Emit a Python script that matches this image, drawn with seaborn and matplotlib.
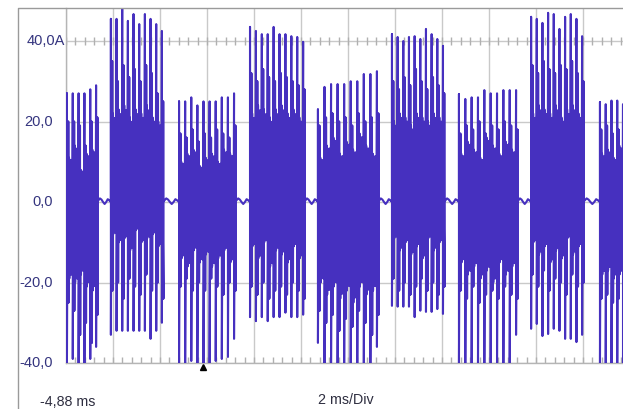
import numpy as np
import pandas as pd
import matplotlib
matplotlib.use("Agg")
import matplotlib.pyplot as plt
from matplotlib.lines import Line2D
import seaborn as sns

# Oszilloskop-Aufnahme: Strom in A ueber Zeit in ms (2 ms/Div)
burst_start = [-4.84, -2.97, -0.07, 2.95, 5.84, 8.99, 11.84, 14.91, 17.84]
burst_end = [-3.60, -0.80, 2.27, 5.21, 8.35, 11.16, 14.27, 17.08, 18.82]

# Spitzenwerte jeder Nadel (A)
burst_peaks = [
    [27, 27, 27, 27, 28, 29],
    [45.5, 45.5, 48, 45, 46.7, 44.2, 46.7, 45.5, 44.2, 42.5],
    [25, 25, 26, 24, 25, 25, 25, 26, 26, 27],
    [43.5, 42.5, 41.7, 41.7, 43.5, 41.7, 41.7, 41.2, 41, 39.8],
    [23, 28.6, 29.3, 29.3, 29.3, 30, 30, 31.8, 31.8, 32.5],
    [41.7, 41, 40, 41, 41.2, 40.5, 43, 41.7, 40.5, 38.8],
    [26.8, 25.6, 26, 26, 27.8, 27, 27, 27.8, 27.8, 27.8],
    [46, 45.5, 44.5, 47, 46.7, 43, 46, 46.7, 45.5, 41.2],
    [24.8, 24.3, 25.2, 25.2, 24.3],
]
burst_troughs = [
    [-40, -39, -40, -40, -39, -36],
    [-33, -32, -32, -32, -32, -32, -32, -34, -32, -30],
    [-40, -40, -39.5, -40, -40, -40, -39.5, -39, -38.5, -34],
    [-28.6, -29.6, -28.6, -29.6, -28.6, -28.6, -27.5, -28.6, -28.6, -28],
    [-35, -40, -40, -40, -40, -40, -40, -40, -40, -36],
    [-25.8, -26, -26, -26, -28.6, -27, -27.3, -27.3, -26.6, -27.8],
    [-40, -40, -40, -40, -40, -40, -40, -40, -40, -33],
    [-31.5, -30.3, -33.3, -32.8, -31.5, -32, -34, -34, -34.8, -33],
    [-40, -40, -40, -40, -40],
]
# zweite, kuerzere Nadel neben jeder Spitze
mid_pos = [
    [20, 20, 19, 14, 20, 21],
    [35, 30, 34, 31, 33, 30, 34, 32, 27, 25],
    [17, 16, 18, 15, 17, 16, 18, 17, 16, 19],
    [32, 30, 33, 31, 30, 32, 31, 30, 29, 28],
    [19, 21, 22, 20, 21, 19, 22, 20, 21, 22],
    [30, 28, 31, 29, 33, 30, 28, 31, 29, 27],
    [17, 19, 18, 20, 17, 19, 18, 20, 19, 18],
    [34, 32, 35, 33, 32, 34, 33, 35, 32, 30],
    [18, 19, 17, 18, 19],
]
mid_neg = [
    [-25, -27, -33, -30, -35, -28],
    [-22, -20, -24, -19, -21, -23, -18, -22, -20, -24],
    [-21, -19, -22, -20, -22, -19, -21, -23, -20, -22],
    [-21, -23, -20, -24, -22, -21, -23, -20, -22, -24],
    [-27, -30, -28, -32, -29, -31, -27, -30, -33, -28],
    [-19, -22, -20, -23, -21, -19, -22, -20, -23, -21],
    [-22, -24, -21, -25, -23, -22, -24, -21, -23, -24],
    [-18, -21, -17, -22, -19, -20, -23, -18, -21, -20],
    [-24, -23, -25, -24, -23],
]
# dichter Kern der Schwingung
core_pos = [
    [11, 14, 8, 12, 13, 9],
    [22, 23, 24, 21, 23, 22, 24, 21, 20, 18],
    [10, 12, 13, 9, 11, 12, 10, 13, 12, 11],
    [22, 24, 23, 21, 23, 24, 22, 23, 21, 20],
    [11, 14, 16, 12, 15, 13, 17, 14, 12, 15],
    [20, 22, 21, 19, 22, 21, 20, 22, 21, 19],
    [12, 15, 13, 11, 16, 14, 12, 15, 13, 14],
    [22, 24, 23, 22, 24, 21, 23, 24, 22, 20],
    [12, 13, 11, 14, 12],
]
core_neg = [
    [-19, -20, -18, -21, -22, -15],
    [-8, -10, -9, -12, -7, -10, -9, -8, -11, -12],
    [-14, -16, -12, -15, -13, -16, -14, -12, -15, -13],
    [-11, -14, -10, -16, -12, -13, -15, -11, -14, -12],
    [-20, -23, -21, -24, -22, -25, -21, -23, -22, -20],
    [-9, -12, -10, -13, -11, -14, -9, -12, -10, -11],
    [-15, -18, -16, -19, -17, -20, -15, -18, -16, -17],
    [-10, -13, -11, -15, -12, -14, -9, -13, -11, -12],
    [-18, -17, -19, -18, -17],
]
core_shape = [1.0, 0.95, 0.9, 0.85, 0.95, 0.8]
gap_wave = [0.0, 0.4, 0.9, 0.6, 0.0, -0.5, 0.0, 0.7, 0.4, 0.0]

t_left, t_right = -4.88, 18.82
trigger_time = 0.97
trace_color = "#4630bf"

t_all, i_all = [], []
prev = t_left
for k in range(len(burst_start)):
    gt = np.linspace(prev, burst_start[k], len(gap_wave))
    t_all += list(gt)
    i_all += gap_wave
    st = np.linspace(burst_start[k], burst_end[k], len(burst_peaks[k]))
    dt = st[1] - st[0]
    for n, t in enumerate(st):
        t_all += [t, t, t + 0.16 * dt, t + 0.2 * dt, t + 0.24 * dt,
                  t + 0.28 * dt]
        i_all += [burst_peaks[k][n], burst_troughs[k][n],
                  mid_pos[k][n], mid_neg[k][n], mid_pos[k][n], mid_neg[k][n]]
        if n < len(st) - 1:
            for j, f in enumerate(core_shape):
                t_all += [t + dt * (0.36 + 0.1 * j), t + dt * (0.41 + 0.1 * j)]
                i_all += [core_pos[k][n] * f, core_neg[k][n] * f]
    t_all.append(burst_end[k] + 0.03)
    i_all.append(0.0)
    prev = burst_end[k] + 0.03

df = pd.DataFrame({"t": t_all, "i": i_all})

sns.set_style("white")
plt.rcParams["font.family"] = ["Liberation Sans", "DejaVu Sans"]

fig = plt.figure(figsize=(6.23, 4.09), dpi=100)
ax = fig.add_axes([66 / 623, 1 - 363 / 409, 557 / 623, 355 / 409])

sns.lineplot(data=df, x="t", y="i", sort=False, estimator=None,
             color=trace_color, linewidth=1.5, ax=ax, zorder=3)

ax.set_xlim(t_left, t_right)
ax.set_ylim(-40, 48.2)
ax.set_xticks(np.arange(t_left, t_right, 2.0))
ax.set_yticks([-40, -20, 0, 20, 40])
ax.set_xticklabels([])
ax.set_yticklabels([])
ax.tick_params(length=0)
ax.set_xlabel("")
ax.set_ylabel("")
ax.grid(True, color="#c9c9c9", linewidth=1.0, zorder=0)
for side in ["top", "right"]:
    ax.spines[side].set_visible(False)
for side in ["left", "bottom"]:
    ax.spines[side].set_color("#b5b5b5")
    ax.spines[side].set_linewidth(1.0)

# kleine Teilstriche auf den Linien +-40 A
minor = np.arange(t_left, t_right, 0.4)
ax.plot(minor, [40] * len(minor), ls="none", marker="|", ms=6,
        color="#b0b0b0", zorder=1)
ax.plot(minor, [-40] * len(minor), ls="none", marker="|", ms=8,
        color="#b0b0b0", zorder=1)

# Triggermarke
ax.plot([trigger_time], [-41.1], marker="^", ms=5, color="black",
        clip_on=False)

ytrans = ax.get_yaxis_transform()
y_labels = {-40: "-40,0", -20: "-20,0", 0: "0,0", 20: "20,0"}
for val, lab in y_labels.items():
    ax.text(-13 / 557, val, lab, transform=ytrans, ha="right", va="center",
            fontsize=10.5, color="#34347e")
ax.text(-1 / 557, 40, "40,0A", transform=ytrans, ha="right", va="center",
        fontsize=10.5, color="#34347e")

fig.text(40 / 623, 1 - 402 / 409, "-4,88 ms", ha="left", va="center",
         fontsize=10.3, color="#2e2e40")
fig.text(318 / 623, 1 - 400 / 409, "2 ms/Div", ha="left", va="center",
         fontsize=10.3, color="#2e2e40")

# Rahmen des Bildschirms
fig.add_artist(Line2D([18 / 623, 18 / 623, 1.0], [0.0, 1 - 8 / 409, 1 - 8 / 409],
                      transform=fig.transFigure, color="#9a9a9a", lw=1.0))

fig.savefig("out.png", dpi=100)
